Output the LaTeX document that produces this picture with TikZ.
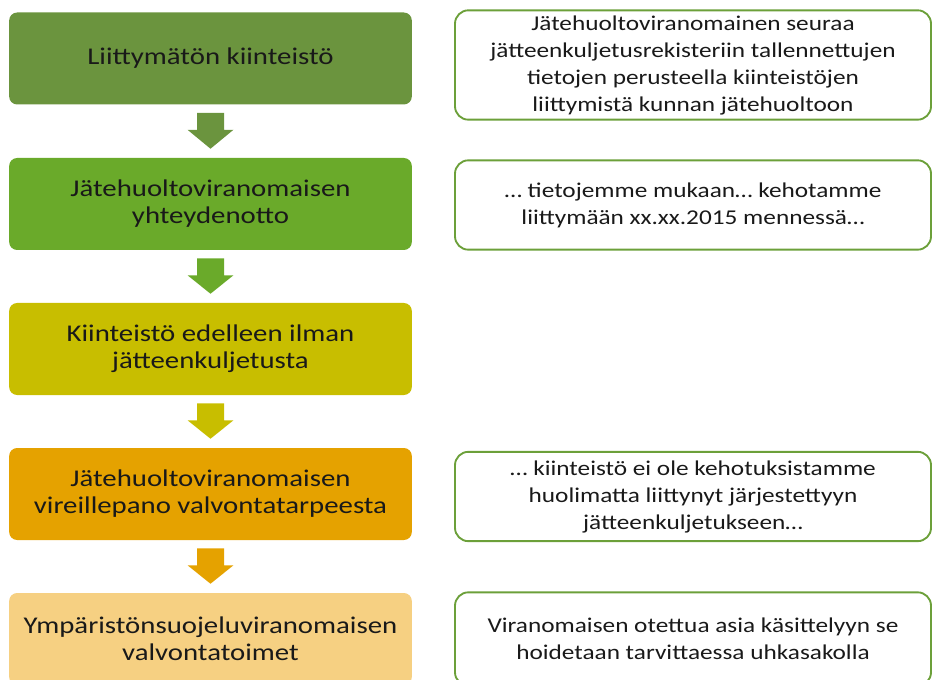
\documentclass[tikz,border=0pt]{standalone}
\usepackage{fontspec}
\setmainfont{Carlito}[FakeStretch=1.2]
\usetikzlibrary{positioning,calc}
\definecolor{vaihe1}{RGB}{107,148,62}
\definecolor{vaihe2}{RGB}{106,170,42}
\definecolor{vaihe3}{RGB}{200,190,0}
\definecolor{vaihe4}{RGB}{229,162,0}
\definecolor{vaihe5}{RGB}{246,208,130}
\definecolor{reuna}{RGB}{108,160,58}
\tikzset{
  vaihe/.style={rounded corners=6pt, inner sep=0pt, minimum width=302pt,
    minimum height=69pt, align=center, text=black!90,
    font=\fontsize{18}{20.25}\selectfont},
  selite/.style={draw=reuna, line width=1.4pt, rounded corners=10pt, inner sep=0pt,
    minimum width=357pt, align=center, text=black!90,
    font=\fontsize{15.8}{20.25}\selectfont}
}
\newcommand\nuoli[3]{\fill[#3] ($(#1.south)+(-13.5,8)$) -- ++(27,0) -- ++(0,17) -- ++(9.5,0)
  -- ($(#2.north)+(0,-9)$) -- ($(#1.south)+(-23,25)$) -- ++(9.5,0) -- cycle;}

\begin{document}
\begin{tikzpicture}[x=0.75pt,y=-0.75pt]
  \useasboundingbox (0,0) rectangle (934,680);
  % vaiheet
  \node[vaihe, fill=vaihe1] (v1) at (210.5,58.5) {Liittymätön kiinteistö};
  \node[vaihe, fill=vaihe2] (v2) at (210.5,204) {Jätehuoltoviranomaisen\\yhteydenotto};
  \node[vaihe, fill=vaihe3] (v3) at (210.5,349) {Kiinteistö edelleen ilman\\jätteenkuljetusta};
  \node[vaihe, fill=vaihe4] (v4) at (210.5,494) {Jätehuoltoviranomaisen\\vireillepano valvontatarpeesta};
  \node[vaihe, fill=vaihe5] (v5) at (210.5,639) {Ympäristönsuojeluviranomaisen\\valvontatoimet};
  \foreach \a/\b/\c in {v1/v2/vaihe1, v2/v3/vaihe2, v3/v4/vaihe3, v4/v5/vaihe4}
    \nuoli{\a}{\b}{\c};
  % selitteet
  \node[selite, minimum height=82pt] (s1) at (693,65) {Jätehuoltoviranomainen seuraa\\jätteenkuljetusrekisteriin tallennettujen\\tietojen perusteella kiinteistöjen\\liittymistä kunnan jätehuoltoon};
  \node[selite, minimum height=67pt] (s2) at (693,205) {… tietojemme mukaan… kehotamme\\liittymään xx.xx.2015 mennessä…};
  \node[selite, minimum height=67pt] (s4) at (693,496.5) {… kiinteistö ei ole kehotuksistamme\\huolimatta liittynyt järjestettyyn\\jätteenkuljetukseen…};
  \node[selite, minimum height=70pt] (s5) at (693,639) {Viranomaisen otettua asia käsittelyyn se\\hoidetaan tarvittaessa uhkasakolla};
\end{tikzpicture}
\end{document}
